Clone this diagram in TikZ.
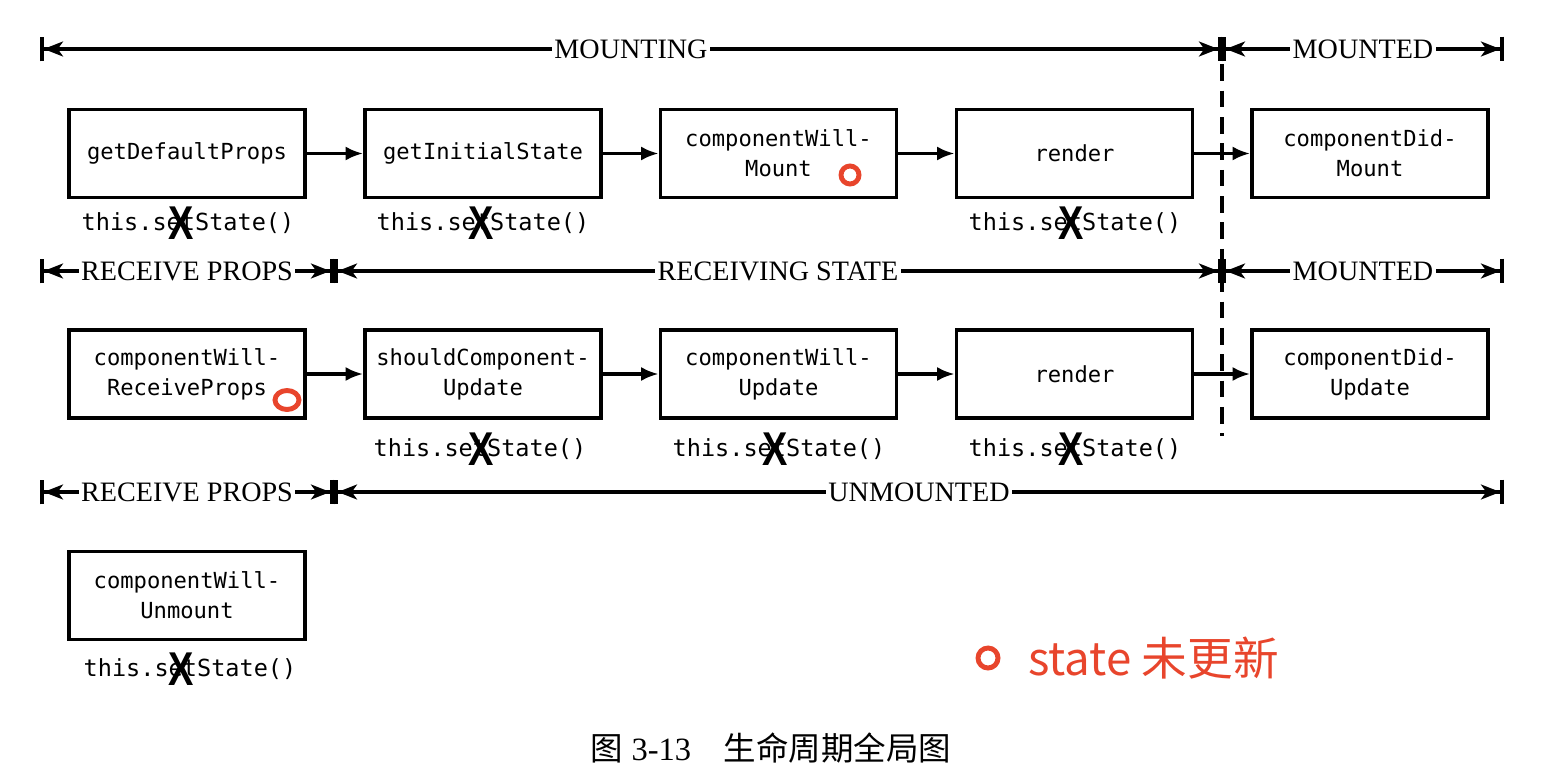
\documentclass[tikz,border=0pt]{standalone}
\usepackage{fontspec}
\usepackage{graphicx}
\setmainfont{Liberation Serif}
\setmonofont{DejaVu Sans Mono}
\newfontfamily\cjk{Noto Sans CJK SC}
\newfontfamily\xfont{Liberation Sans}
\usetikzlibrary{arrows.meta,shapes.geometric}
\definecolor{stred}{RGB}{232,69,44}
\tikzset{
	phase/.style={line width=1.8pt, {Bar[width=14pt,line width=2.1pt,sep=0pt]Stealth[length=11pt,width=8.5pt,inset=3pt,sep=0pt]}-{Stealth[length=11pt,width=8.5pt,inset=3pt,sep=0pt]Bar[width=14pt,line width=2.1pt,sep=0pt]}},
	phaselbl/.style={fill=white, inner sep=1.5pt, font=\fontsize{16}{16}\selectfont},
	hook/.style={draw, line width=2.1pt, minimum width=4.72cm, minimum height=1.76cm, align=center, font=\ttfamily\fontsize{12.6}{17}\selectfont},
	flow/.style={line width=2.1pt, -{Latex[length=10pt,width=8pt]}},
	setst/.style={inner sep=0pt, font=\ttfamily\fontsize{13.4}{16}\selectfont},
	xmark/.style={inner sep=0pt, font=\xfont\bfseries\fontsize{27}{27}\selectfont},
	ring/.style={circle, draw=stred, line width=2.8pt, minimum size=0.36cm, inner sep=0pt}
}
\begin{document}
\begin{tikzpicture}[x=0.02cm,y=-0.02cm]
	\useasboundingbox (0,0) rectangle (1552,784);
	% phase marks
	\coordinate (a0) at (40,49);
	\coordinate (a1) at (1222,49);
	\coordinate (a2) at (1504,49);
	\coordinate (b0) at (40,271);
	\coordinate (b1) at (334,271);
	\coordinate (b2) at (1222,271);
	\coordinate (b3) at (1504,271);
	\coordinate (c0) at (40,492);
	\coordinate (c1) at (334,492);
	\coordinate (c2) at (1504,492);
	\coordinate (d0) at (1222,38);
	\coordinate (d1) at (1222,436);
	\draw[line width=1.9pt, dash pattern=on 9.5pt off 5.5pt] (d0) -- (d1);
	\draw[phase] (a0) -- node[phaselbl]{MOUNTING} (a1);
	\draw[phase] (a1) -- node[phaselbl]{MOUNTED} (a2);
	\draw[phase] (b0) -- node[phaselbl]{RECEIVE PROPS} (b1);
	\draw[phase] (b1) -- node[phaselbl]{RECEIVING STATE} (b2);
	\draw[phase] (b2) -- node[phaselbl]{MOUNTED} (b3);
	\draw[phase] (c0) -- node[phaselbl]{RECEIVE PROPS} (c1);
	\draw[phase] (c1) -- node[phaselbl]{UNMOUNTED} (c2);
	% mounting
	\node[hook] (m1) at (187,153.5) {getDefaultProps};
	\node[hook] (m2) at (483,153.5) {getInitialState};
	\node[hook] (m3) at (778.5,153.5) {componentWill-\\Mount};
	\node[hook] (m4) at (1074.5,153.5) {render};
	\node[hook] (m5) at (1370,153.5) {componentDid-\\Mount};
	\draw[flow] (m1) -- (m2);
	\draw[flow] (m2) -- (m3);
	\draw[flow] (m3) -- (m4);
	\draw[flow] (m4) -- (m5);
	\node[setst] (ms1) at (188,223) {this.setState()};
	\node[setst] (ms2) at (483,223) {this.setState()};
	\node[setst] (ms4) at (1075,223) {this.setState()};
	\node[xmark] (mx1) at (181,223) {\scalebox{0.8}[1]{X}};
	\node[xmark] (mx2) at (481,223) {\scalebox{0.8}[1]{X}};
	\node[xmark] (mx4) at (1071,223) {\scalebox{0.8}[1]{X}};
	\node[ring] (mr3) at (850,175) {};
	% updating
	\node[hook] (u1) at (187,374) {componentWill-\\ReceiveProps};
	\node[hook] (u2) at (483,374) {shouldComponent-\\Update};
	\node[hook] (u3) at (778.5,374) {componentWill-\\Update};
	\node[hook] (u4) at (1074.5,374) {render};
	\node[hook] (u5) at (1370,374) {componentDid-\\Update};
	\draw[flow] (u1) -- (u2);
	\draw[flow] (u2) -- (u3);
	\draw[flow] (u3) -- (u4);
	\draw[flow] (u4) -- (u5);
	\node[setst] (us2) at (480,449) {this.setState()};
	\node[setst] (us3) at (779,449) {this.setState()};
	\node[setst] (us4) at (1075,449) {this.setState()};
	\node[xmark] (ux2) at (481,449) {\scalebox{0.8}[1]{X}};
	\node[xmark] (ux3) at (775,449) {\scalebox{0.8}[1]{X}};
	\node[xmark] (ux4) at (1071,449) {\scalebox{0.8}[1]{X}};
	\node[ring, ellipse, minimum width=0.48cm, minimum height=0.38cm] (ur1) at (287,400) {};
	% unmounting
	\node[hook] (n1) at (187,595.5) {componentWill-\\Unmount};
	\node[setst] (ns1) at (190,669) {this.setState()};
	\node[xmark] (nx1) at (181,669) {\scalebox{0.8}[1]{X}};
	% legend and caption
	\node[ring, minimum size=0.4cm] (lr) at (988,658) {};
	\node[anchor=west, inner sep=0pt, text=stred, font=\cjk\fontsize{26}{26}\selectfont] (lt) at (1028,658) {state 未更新};
	\node[font=\fontsize{18.5}{20}\selectfont] (cap) at (771,748) {{\cjk 图} 3-13\quad{\cjk 生命周期全局图}};
\end{tikzpicture}
\end{document}
